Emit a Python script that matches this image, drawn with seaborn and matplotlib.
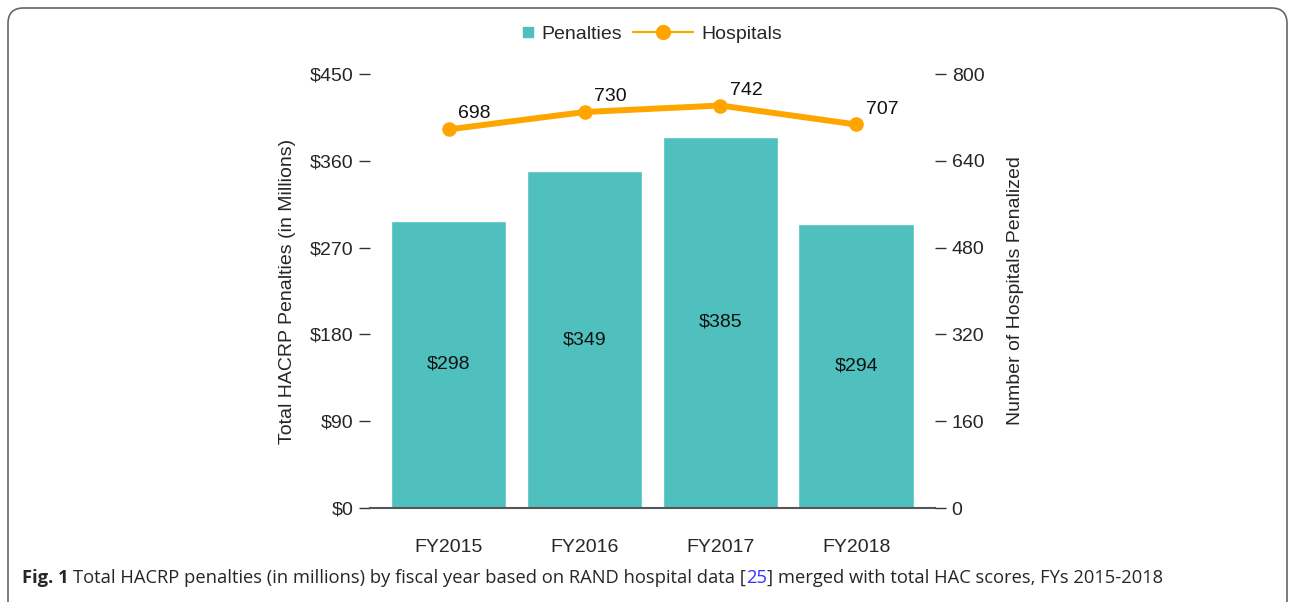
import numpy as np
import pandas as pd
import seaborn as sns
import matplotlib.pyplot as plt
from matplotlib.lines import Line2D
from matplotlib.patches import FancyBboxPatch

# 数据
years = ['FY2015', 'FY2016', 'FY2017', 'FY2018']
penalties = [298, 349, 385, 294]
hospitals = [698, 730, 742, 707]
left_ticks = [0, 90, 180, 270, 360, 450]
right_ticks = [0, 160, 320, 480, 640, 800]

teal = '#4FC0BD'
orange = '#FFA500'

df = pd.DataFrame({'year': years, 'penalties': penalties, 'hospitals': hospitals})

sns.set_style('white')
plt.rcParams['font.family'] = ['Liberation Sans', 'DejaVu Sans']

fig = plt.figure(figsize=(12.9, 6.02), dpi=100)
ax = fig.add_axes([0.2868, 0.1561, 0.4380, 0.7209])

sns.barplot(data=df, x='year', y='penalties', color=teal, width=0.85,
            saturation=1, ax=ax)
for i, v in enumerate(penalties):
    ax.text(i, v / 2, f'${v}', ha='center', va='center', fontsize=14, color='#111111')

ax.set_xlim(-0.58, 3.58)
ax.set_ylim(0, 450)
ax.set_yticks(left_ticks)
ax.set_yticklabels([f'${t}' for t in left_ticks])
ax.set_ylabel('Total HACRP Penalties (in Millions)', fontsize=14, labelpad=10)
ax.set_xlabel('')
ax.tick_params(axis='y', left=True, length=8, width=1, color='#333333', labelsize=14, pad=4)
ax.tick_params(axis='x', bottom=False, labelsize=14, pad=19)
for s in ['top', 'right', 'left']:
    ax.spines[s].set_visible(False)
ax.spines['bottom'].set_color('#555555')
ax.spines['bottom'].set_linewidth(1.5)

ax2 = ax.twinx()
sns.lineplot(x=np.arange(len(years)), y=hospitals, color=orange, linewidth=4.3,
             marker='o', markersize=10.5, markeredgewidth=0, ax=ax2)
for i, v in enumerate(hospitals):
    ax2.annotate(str(v), (i, v), xytext=(7, 5), textcoords='offset points',
                 ha='left', va='bottom', fontsize=14, color='#111111')
ax2.set_ylim(0, 800)
ax2.set_yticks(right_ticks)
ax2.set_ylabel('Number of Hospitals Penalized', fontsize=14, labelpad=16)
ax2.tick_params(axis='y', right=True, length=8, width=1, color='#333333', labelsize=14, pad=4)
for s in ['top', 'right', 'left', 'bottom']:
    ax2.spines[s].set_visible(False)
ax2.grid(False)

# 图例
leg_y = 1 - 34 / 602
leg1 = fig.legend([Line2D([], [], marker='s', color=teal, linestyle='None', markersize=6.5)],
                  ['Penalties'], loc='center left', bbox_to_anchor=(520 / 1290, leg_y),
                  frameon=False, fontsize=14, handlelength=0.8, handletextpad=0.3,
                  borderpad=0, borderaxespad=0)
leg2 = fig.legend([Line2D([], [], marker='o', color=orange, linewidth=1.6, markersize=11,
                          markeredgewidth=0)],
                  ['Hospitals'], loc='center left', bbox_to_anchor=(633 / 1290, leg_y),
                  frameon=False, fontsize=14, handlelength=3.1, handletextpad=0.4,
                  borderpad=0, borderaxespad=0)

# 边框
box = FancyBboxPatch((8 / 1290, -0.05), 1279 / 1290, 1.05 - 8 / 602,
                     boxstyle='round,pad=0,rounding_size=0.012',
                     transform=fig.transFigure, fill=False, edgecolor='#666666',
                     linewidth=1.2, mutation_aspect=1290 / 602)
fig.add_artist(box)

# 图注
cap_y = 1 - 578 / 602
cap_font = ['Open Sans', 'DejaVu Sans']
t0 = fig.text(22 / 1290, cap_y, 'Fig. 1 ', fontsize=13.2, fontweight='bold',
              family=cap_font, va='center', ha='left')
t1 = ax.annotate('Total HACRP penalties (in millions) by fiscal year based on RAND hospital data [',
                 xy=(1, 0.5), xycoords=t0, va='center', ha='left', fontsize=13.2,
                 family=cap_font, annotation_clip=False)
t2 = ax.annotate('25', xy=(1, 0.5), xycoords=t1, va='center', ha='left', fontsize=13.2,
                 family=cap_font, color='#3333ff', annotation_clip=False)
ax.annotate('] merged with total HAC scores, FYs 2015-2018', xy=(1, 0.5), xycoords=t2,
            va='center', ha='left', fontsize=13.2, family=cap_font, annotation_clip=False)

fig.savefig('out.png', dpi=100)
